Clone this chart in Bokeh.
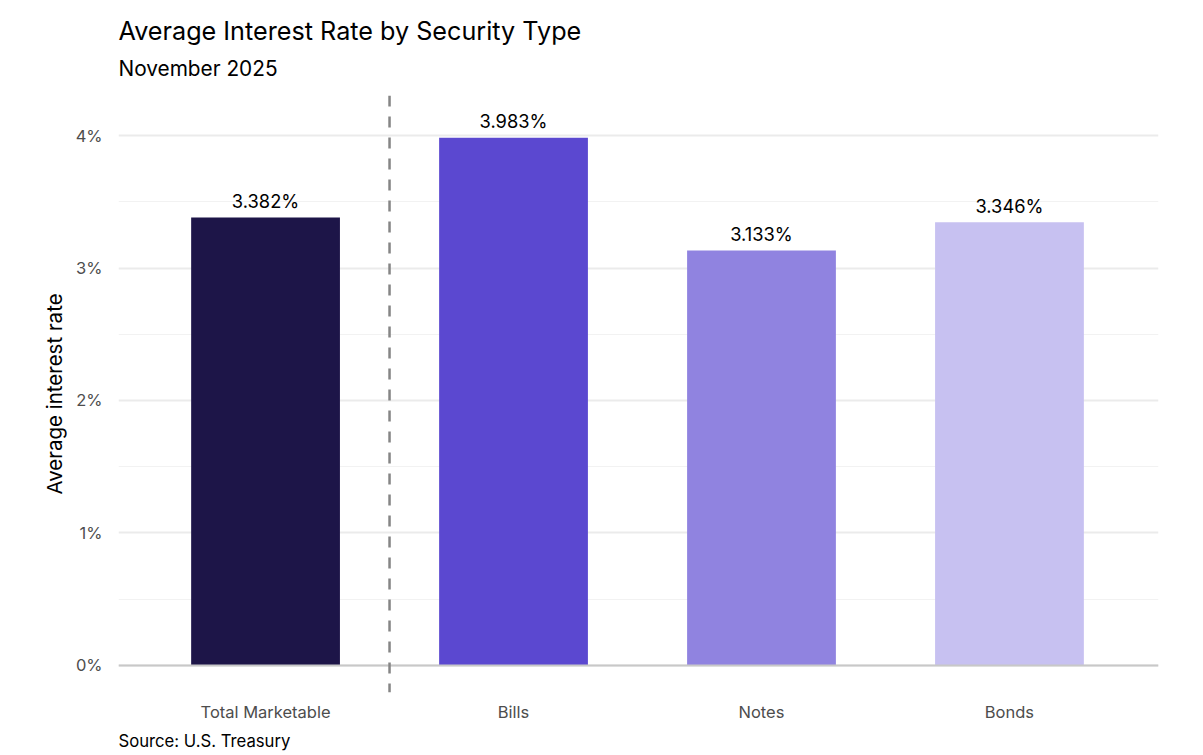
from bokeh.plotting import figure
from bokeh.models import Range1d, FixedTicker, Span, Title, ColumnDataSource
from bokeh.core.properties import value
from bokeh.embed import file_html
from bokeh.resources import INLINE

# ---- data ----
categories = ["Total Marketable", "Bills", "Notes", "Bonds"]
rates = [3.382, 3.983, 3.133, 3.346]
bar_colors = ["#1d1548", "#5b48d0", "#9083e0", "#c7c1f1"]
y_ticks = [0, 1, 2, 3, 4]
y_tick_labels = ["0%", "1%", "2%", "3%", "4%"]
title_text = "Average Interest Rate by Security Type"
subtitle_text = "November 2025"
source_text = "Source: U.S. Treasury"
y_label = "Average interest rate"

FONT = "Inter"
xs = list(range(len(categories)))
labels = ["%.3f%%" % r for r in rates]

src = ColumnDataSource(dict(x=xs, top=rates, color=bar_colors,
                            label=labels, ly=[r + 0.042 for r in rates]))

p = figure(width=1203, height=755, output_backend="svg", toolbar_location=None,
           title=None,
           x_range=Range1d(-0.593, 3.601), y_range=Range1d(-0.204, 4.302),
           min_border_left=118, min_border_right=45,
           min_border_top=95, min_border_bottom=63)
p.outline_line_color = None
p.background_fill_color = "white"
p.border_fill_color = "white"

# grid
p.xgrid.grid_line_color = None
p.ygrid.grid_line_color = "#ebebeb"
p.ygrid.grid_line_width = 2
p.ygrid.minor_grid_line_color = "#f2f2f2"
p.ygrid.minor_grid_line_width = 1

# y axis
p.yaxis.ticker = FixedTicker(ticks=y_ticks, minor_ticks=[0.5, 1.5, 2.5, 3.5])
p.yaxis.major_label_overrides = {t: l for t, l in zip(y_ticks, y_tick_labels)}
p.yaxis.axis_line_color = None
p.yaxis.major_tick_line_color = None
p.yaxis.minor_tick_line_color = None
p.yaxis.major_tick_out = 0
p.yaxis.minor_tick_out = 0
p.yaxis.major_label_standoff = 16
p.yaxis.major_label_text_font = FONT
p.yaxis.major_label_text_font_size = "16.5px"
p.yaxis.major_label_text_color = "#4d4d4d"
p.yaxis.axis_label = y_label
p.yaxis.axis_label_text_font = FONT
p.yaxis.axis_label_text_font_size = "20.5px"
p.yaxis.axis_label_text_font_style = "normal"
p.yaxis.axis_label_text_color = "black"
p.yaxis.axis_label_standoff = 6

# x axis
p.xaxis.ticker = FixedTicker(ticks=xs, minor_ticks=[])
p.xaxis.major_label_overrides = {i: c for i, c in zip(xs, categories)}
p.xaxis.axis_line_color = None
p.xaxis.major_tick_line_color = None
p.xaxis.minor_tick_line_color = None
p.xaxis.major_tick_out = 0
p.xaxis.minor_tick_out = 0
p.xaxis.major_label_standoff = 9
p.xaxis.major_label_text_font = FONT
p.xaxis.major_label_text_font_size = "16.5px"
p.xaxis.major_label_text_color = "#4d4d4d"

# bars
p.vbar(x="x", top="top", bottom=0, width=0.6, color="color", line_color=None, source=src)

# zero line
p.add_layout(Span(location=0, dimension="width", line_color="#c8c8c8", line_width=2))

# dashed separator
p.add_layout(Span(location=0.5, dimension="height", line_color="#858585",
                  line_width=2.5, line_dash="11 10"))

# value labels
p.text(x="x", y="ly", text="label", source=src, text_align="center",
       text_baseline="bottom", text_font=value(FONT),
       text_font_size=value("18.3px"), text_color="black")

# titles & caption
sub = Title(text=subtitle_text, align="left", text_font=FONT, text_font_size="20.8px",
            text_font_style="normal", text_color="black", standoff=0,
            padding=(0, 0, 8, 15))
p.add_layout(sub, "above")
ttl = Title(text=title_text, align="left", text_font=FONT, text_font_size="25.2px",
            text_font_style="normal", text_color="black", standoff=0)
p.add_layout(ttl, "above")
srcnote = Title(text=source_text, align="left", text_font=FONT, text_font_size="16.7px",
                text_font_style="normal", text_color="black", standoff=8)
p.add_layout(srcnote, "below")

open("out.html", "w").write(file_html(p, INLINE))
